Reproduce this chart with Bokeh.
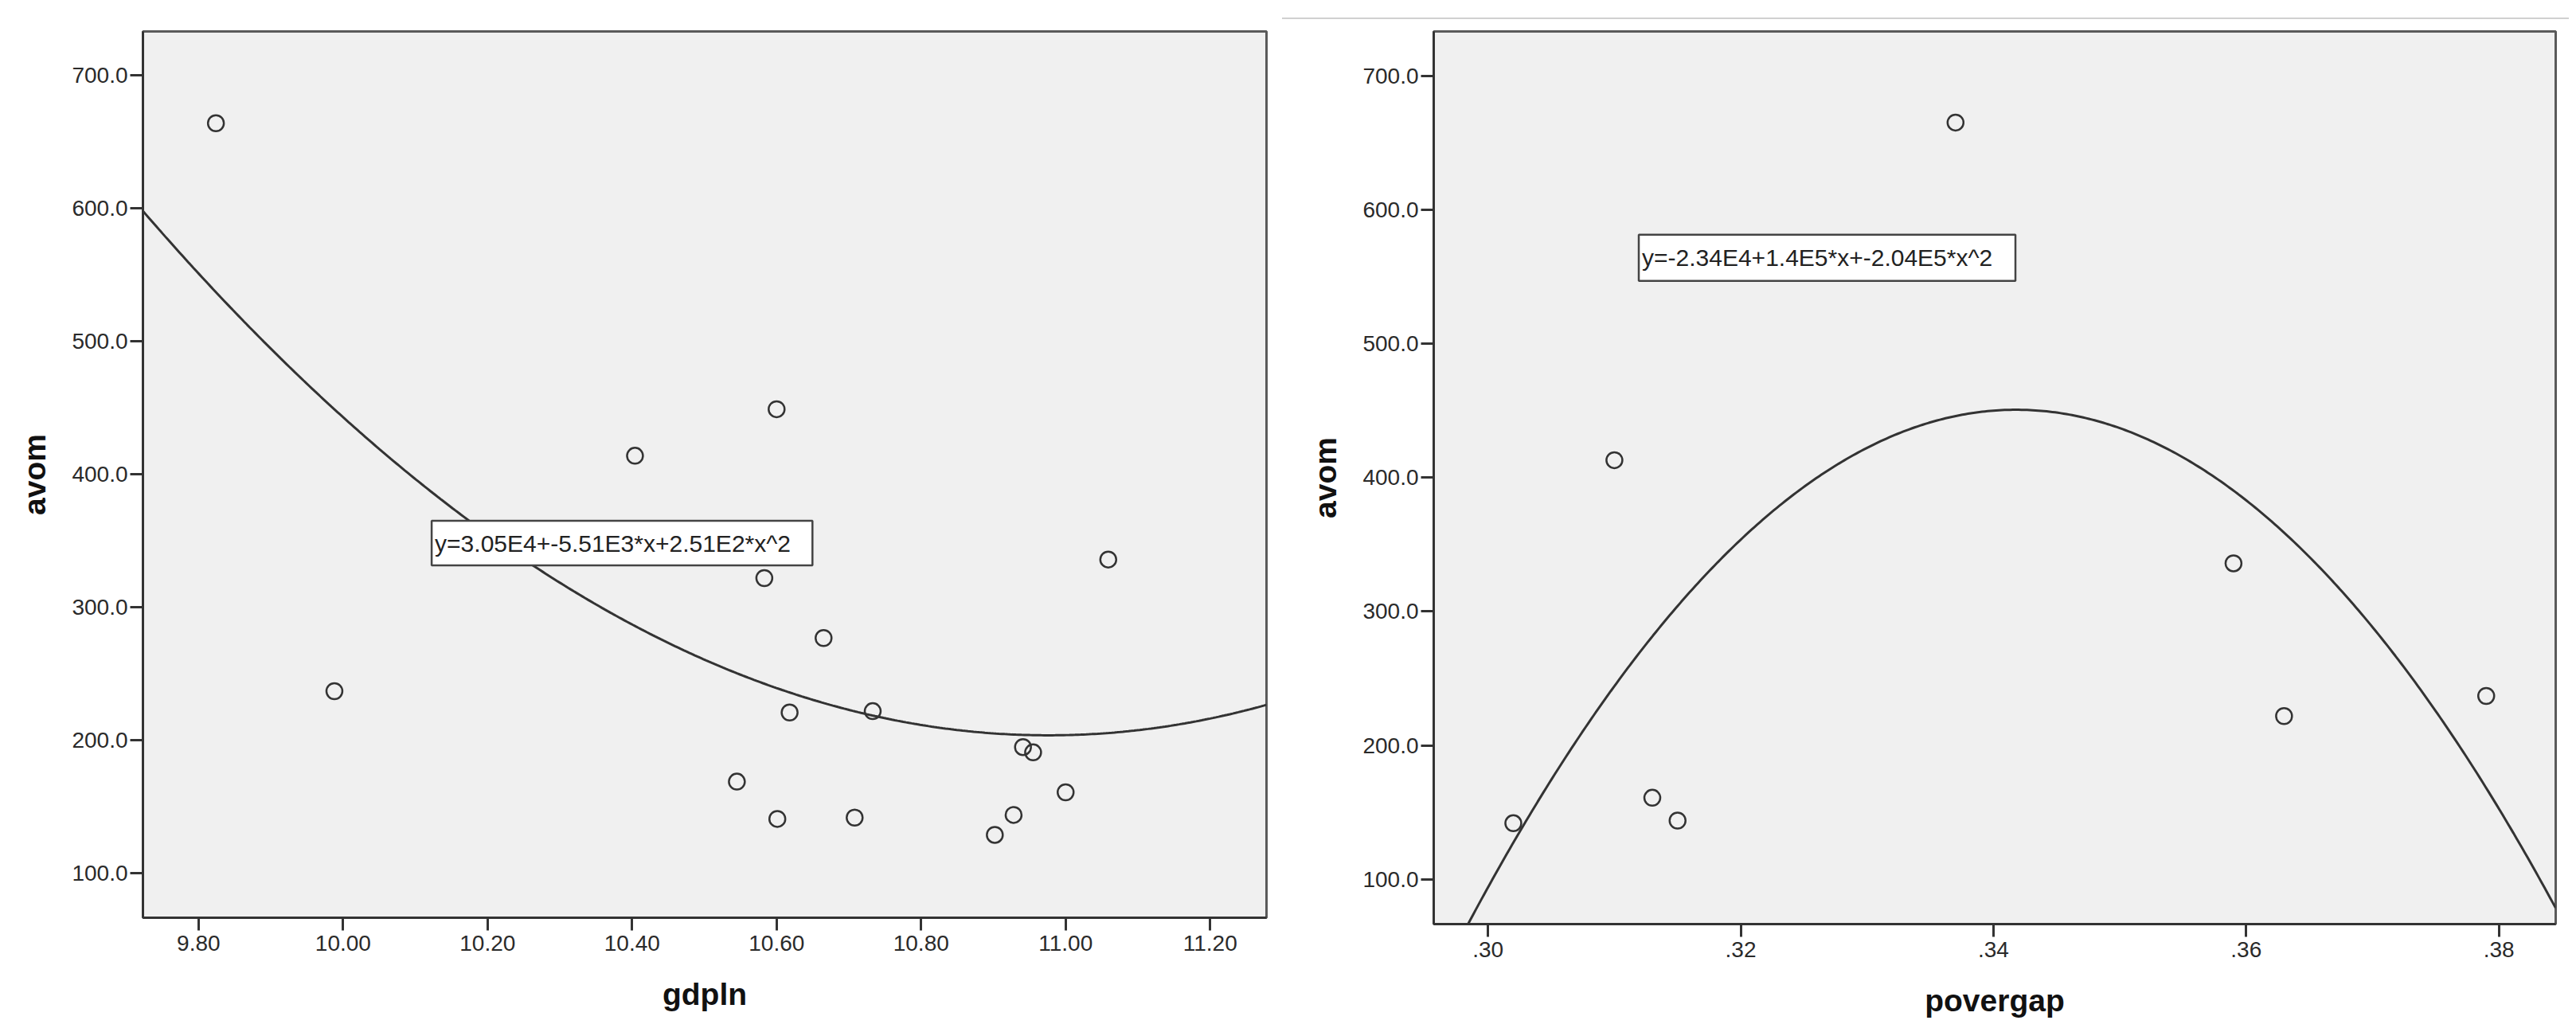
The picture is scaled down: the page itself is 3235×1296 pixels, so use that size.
import numpy as np
from bokeh.plotting import figure
from bokeh.models import Range1d, FixedTicker, Label
from bokeh.layouts import row
from bokeh.embed import file_html
from bokeh.resources import INLINE

# ---------------- data ----------------
gdpln = [9.824, 9.988, 10.404, 10.600, 10.583, 10.665, 10.618, 10.733, 10.941,
         10.955, 10.545, 11.000, 10.601, 10.708, 10.928, 10.902, 11.059]
avom_left = [664, 237, 414, 449, 322, 277, 221, 222, 195,
             191, 169, 161, 141, 142, 144, 129, 336]

povergap = [0.337, 0.310, 0.302, 0.313, 0.315, 0.359, 0.363, 0.379]
avom_right = [665, 413, 142, 161, 144, 336, 222, 237]

# quadratic fit coefficients (c0, c1, c2) as drawn
fit_left = [30443.0, -5510.0, 251.0]
fit_right = [-23382.0, 139454.0, -204000.0]
eq_left = "y=3.05E4+-5.51E3*x+2.51E2*x^2"
eq_right = "y=-2.34E4+1.4E5*x+-2.04E5*x^2"

y_ticks = [100, 200, 300, 400, 500, 600, 700]
y_tick_labels = ["100.0", "200.0", "300.0", "400.0", "500.0", "600.0", "700.0"]
xl_ticks = [9.8, 10.0, 10.2, 10.4, 10.6, 10.8, 11.0, 11.2]
xl_tick_labels = ["9.80", "10.00", "10.20", "10.40", "10.60", "10.80", "11.00", "11.20"]
xr_ticks = [0.30, 0.32, 0.34, 0.36, 0.38]
xr_tick_labels = [".30", ".32", ".34", ".36", ".38"]

FONT = "Liberation Sans"
INK = "#333333"


def style(p, xticks, xlabels, xtitle):
    p.background_fill_color = "#f0f0f0"
    p.outline_line_color = "#5a5a5a"
    p.outline_line_width = 3
    p.grid.visible = False
    p.xaxis.ticker = FixedTicker(ticks=xticks)
    p.xaxis.major_label_overrides = {t: l for t, l in zip(xticks, xlabels)}
    p.yaxis.ticker = FixedTicker(ticks=y_ticks)
    p.yaxis.major_label_overrides = {t: l for t, l in zip(y_ticks, y_tick_labels)}
    p.xaxis.axis_label = xtitle
    p.yaxis.axis_label = "avom"
    for ax in p.axis:
        ax.axis_line_color = INK
        ax.axis_line_width = 3
        ax.major_tick_line_color = INK
        ax.major_tick_line_width = 3
        ax.major_tick_out = 16
        ax.major_tick_in = 0
        ax.minor_tick_out = 0
        ax.minor_tick_in = 0
        ax.major_label_text_font = FONT
        ax.major_label_text_font_size = "28px"
        ax.major_label_text_color = "#2a2a2a"
        ax.axis_label_text_font = FONT
        ax.axis_label_text_font_size = "39px"
        ax.axis_label_text_font_style = "bold"
        ax.axis_label_text_color = "#111111"
    p.xaxis.major_label_standoff = 6
    p.yaxis.major_label_standoff = 3
    p.xaxis.axis_label_standoff = 30
    p.yaxis.axis_label_standoff = 22


def draw(p, xs, ys, coef, x0, x1, box, eq):
    cx = np.linspace(x0, x1, 400)
    cy = coef[0] + coef[1] * cx + coef[2] * cx ** 2
    p.line(cx, cy, line_color=INK, line_width=3)
    p.quad(left=[box[0]], right=[box[1]], bottom=[box[2]], top=[box[3]],
           fill_color="white", line_color="#444444", line_width=2.5)
    p.add_layout(Label(x=box[0], y=(box[2] + box[3]) / 2, x_offset=4, text=eq,
                       text_baseline="middle", text_font=FONT,
                       text_font_size="30px", text_color="#222222"))
    p.scatter(xs, ys, marker="circle", size=20, fill_color=None,
              line_color=INK, line_width=2.5)


# ---------------- left panel ----------------
xl0, xl1 = 9.723, 11.278
pl = figure(output_backend="svg", toolbar_location=None,
            x_range=Range1d(xl0, xl1), y_range=Range1d(66.7, 733),
            frame_width=1411, frame_height=1113,
            min_border_left=179, min_border_right=20,
            min_border_top=39, min_border_bottom=138)
pl.border_fill_color = "white"
style(pl, xl_ticks, xl_tick_labels, "gdpln")
draw(pl, gdpln, avom_left, fit_left, xl0, xl1,
     (10.1226, 10.6496, 331.6, 365.1), eq_left)

# ---------------- right panel ----------------
xr0, xr1 = 0.2957, 0.3845
pr = figure(output_backend="svg", toolbar_location=None,
            x_range=Range1d(xr0, xr1), y_range=Range1d(66.7, 733),
            frame_width=1409, frame_height=1121,
            min_border_left=190, min_border_right=17,
            min_border_top=37, min_border_bottom=132)
pr.border_fill_color = "white"
pr.border_fill_alpha = 0.0
pr.styles = {"background": "linear-gradient(to bottom, #ffffff 0px, #ffffff 22px, "
                           "#d0d0d0 22px, #d0d0d0 24px, #ffffff 24px)"}
style(pr, xr_ticks, xr_tick_labels, "povergap")
draw(pr, povergap, avom_right, fit_right, xr0, xr1,
     (0.31193, 0.34174, 546.8, 581.3), eq_right)

layout = row(pl, pr)

open("out.html", "w").write(file_html(layout, INLINE))
